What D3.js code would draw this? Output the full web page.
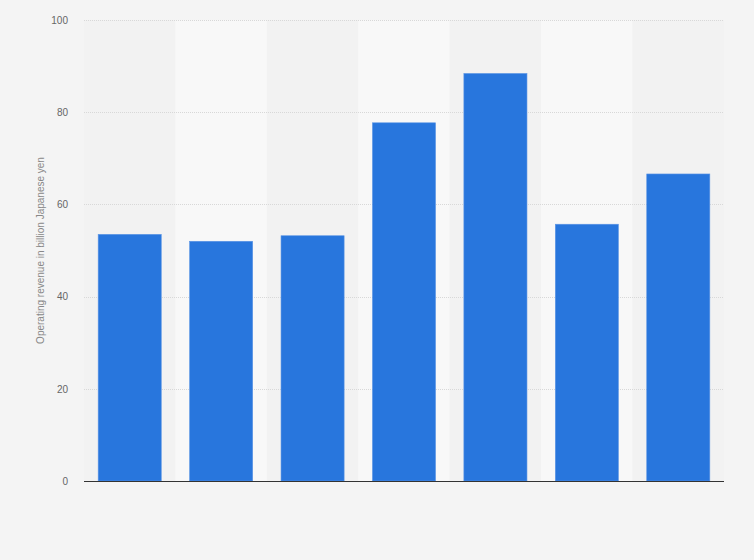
<!DOCTYPE html>
<html>
<head>
<meta charset="utf-8">
<script src="https://cdn.jsdelivr.net/npm/d3@7"></script>
<style>
  html, body { margin: 0; padding: 0; background: #f4f4f4; }
  svg { display: block; font-family: "Liberation Sans", Arial, sans-serif; }
</style>
</head>
<body>
<div id="chart"></div>
<script>
const categories = ["1", "2", "3", "4", "5", "6", "7"];
const revenue = [53.5, 52.0, 53.2, 77.7, 88.4, 55.7, 66.6];
const yTicks = [0, 20, 40, 60, 80, 100];

const margin = { top: 20, right: 30, bottom: 79, left: 84 };
const width = 754 - margin.left - margin.right;
const height = 560 - margin.top - margin.bottom;

const svg = d3.select("#chart").append("svg")
  .attr("width", 754)
  .attr("height", 560);

svg.append("rect")
  .attr("width", 754).attr("height", 560)
  .attr("fill", "#f4f4f4");

const canvas = svg.append("g")
  .attr("transform", "translate(" + margin.left + "," + margin.top + ")");

const x = d3.scaleBand()
  .domain(categories)
  .range([0, width])
  .paddingInner(0.31)
  .paddingOuter(0.155);

const y = d3.scaleLinear()
  .domain([0, 100])
  .range([height, 0]);

// alternating column stripes
const step = x.step();
canvas.append("g")
  .selectAll("rect")
  .data(categories)
  .join("rect")
  .attr("x", (d) => x(d) - step * x.paddingOuter())
  .attr("y", 0)
  .attr("width", step)
  .attr("height", height)
  .attr("fill", (d, i) => (i % 2 ? "#f8f8f8" : "#f2f2f2"));

// grid lines
canvas.append("g")
  .selectAll("line")
  .data(yTicks.filter((d) => d > 0))
  .join("line")
  .attr("x1", 0)
  .attr("x2", width)
  .attr("y1", (d) => Math.round(y(d)) + 0.5)
  .attr("y2", (d) => Math.round(y(d)) + 0.5)
  .attr("stroke", "#d8d8d8")
  .attr("stroke-dasharray", "1,1");

// Y Axis
const yAxis = d3.axisLeft(y).tickValues(yTicks).tickSize(0).tickPadding(16);
const yg = canvas.append("g").call(yAxis);
yg.select(".domain").remove();
yg.selectAll("text")
  .attr("fill", "#666")
  .style("font-size", "10px");

// bars
canvas.append("g")
  .selectAll("rect")
  .data(revenue)
  .join("rect")
  .attr("x", (d, i) => x(categories[i]))
  .attr("y", (d) => y(d))
  .attr("width", x.bandwidth())
  .attr("height", (d) => height - y(d))
  .attr("fill", "#2876dd")
  .attr("stroke", "#5c95e5")
  .attr("stroke-width", 0.6);

// X axis baseline
canvas.append("line")
  .attr("x1", 0)
  .attr("x2", width)
  .attr("y1", height + 0.5)
  .attr("y2", height + 0.5)
  .attr("stroke", "#333")
  .attr("stroke-width", 1);

// Y axis title
svg.append("text")
  .attr("transform", "translate(44," + (margin.top + height / 2) + ") rotate(-90)")
  .attr("text-anchor", "middle")
  .attr("fill", "#888")
  .style("font-size", "10px")
  .text("Operating revenue in billion Japanese yen");
</script>
</body>
</html>
